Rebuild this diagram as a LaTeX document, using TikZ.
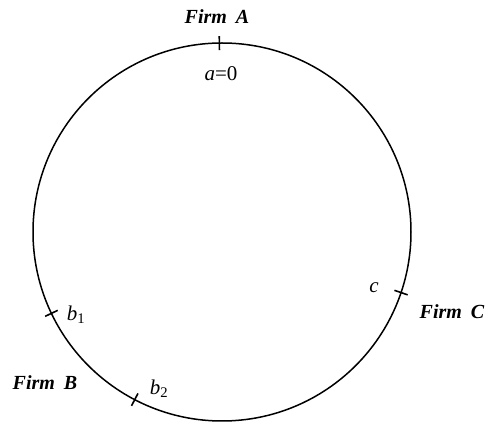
\documentclass[tikz,border=0pt]{standalone}
\usepackage{fontspec}
\setmainfont{Liberation Serif}
\usetikzlibrary{calc}

\begin{document}
\begin{tikzpicture}[x=1pt,y=1pt,
    every node/.style={font=\fontsize{21}{24}\selectfont\itshape},
    firm/.style={font=\fontsize{20}{24}\selectfont\bfseries\itshape},
    marktick/.style={line width=1.6pt}]
  \useasboundingbox (0,0) rectangle (488,423);
  \coordinate (ctr) at (222,191);
  \draw[line width=1.5pt] (ctr) circle[radius=189];

  % locations on the circle
  \foreach \name/\ang in {A/90.8,B1/205.5,B2/242.5,C/-18.7} {
    \coordinate (pt\name) at ($(ctr)+(\ang:189)$);
    \draw[marktick] ($(pt\name)!7pt!(ctr)$) -- ($(pt\name)!-7pt!(ctr)$);
  }

  \node[firm] (firmA) at (217,406) {Firm\hspace{0.45em}A};
  \node (labA) at (221,349) {a\textup{=0}};
  \node (labB1) at (76,108) {b\textsubscript{\textup{1}}};
  \node (labB2) at (159,34) {b\textsubscript{\textup{2}}};
  \node (labC) at (374,135) {c};
  \node[firm] (firmB) at (45,40) {Firm\hspace{0.45em}B};
  \node[firm] (firmC) at (452,111) {Firm\hspace{0.45em}C};
\end{tikzpicture}
\end{document}
